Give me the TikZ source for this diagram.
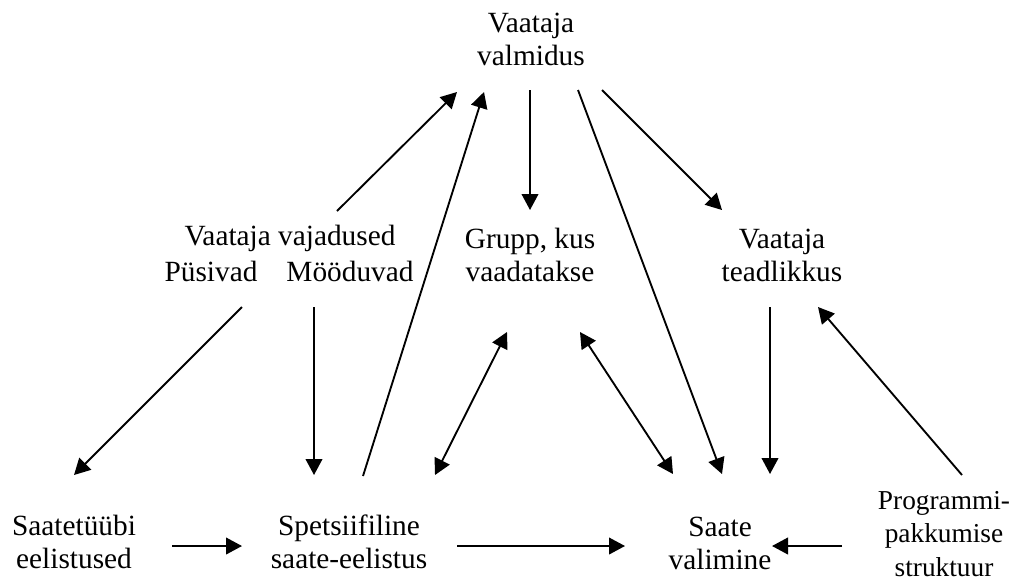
\documentclass[tikz,border=0pt]{standalone}
\usepackage{fontspec}
\setmainfont{Liberation Serif}
\usetikzlibrary{arrows.meta}
\begin{document}
\begin{tikzpicture}[x=0.75pt,y=-0.75pt,
  lbl/.style={align=center, anchor=base, inner sep=0pt,
    font=\fontsize{22}{24.75}\selectfont},
  small/.style={font=\fontsize{20.5}{25}\selectfont},
  tip/.tip={Triangle[length=12pt,width=12.5pt]},
  link/.style={line width=1.4pt, -tip},
  both/.style={line width=1.4pt, tip-tip}]
\useasboundingbox (0,0) rectangle (1023,583);

% text blocks (each placed at the baseline of its last line)
\node[lbl] (valm)  at (531,65)  {Vaataja\\valmidus};
\node[lbl] (vaj)   at (290,245) {Vaataja vajadused};
\node[lbl] (pus)   at (211,281) {Püsivad};
\node[lbl] (moo)   at (350,281) {Mööduvad};
\node[lbl] (grupp) at (530,281) {Grupp, kus\\vaadatakse};
\node[lbl] (tead)  at (782,281) {Vaataja\\teadlikkus};
\node[lbl] (tyyp)  at (74,568)  {Saatetüübi\\eelistused};
\node[lbl] (spets) at (349,568) {Spetsiifiline\\saate-eelistus};
\node[lbl] (val)   at (720,569) {Saate\\valimine};
\node[lbl,small] (prog) at (944,576) {Programmi-\\pakkumise\\struktuur};

% connector end points around the text blocks
\coordinate (valm-a) at (457,92);
\coordinate (valm-b) at (484,92);
\coordinate (valm-c) at (530,90);
\coordinate (valm-d) at (578,90);
\coordinate (valm-e) at (602,90);
\coordinate (pus-top) at (337,211);
\coordinate (pus-bot) at (242,307);
\coordinate (moo-bot) at (314,307);
\coordinate (grupp-top) at (530,210);
\coordinate (grupp-l) at (507,332);
\coordinate (grupp-r) at (580,332);
\coordinate (tead-top) at (722,210);
\coordinate (tead-bot) at (770,307);
\coordinate (tead-r) at (818,307);
\coordinate (tyyp-top) at (74,475);
\coordinate (tyyp-r) at (172,546);
\coordinate (spets-top) at (314,475);
\coordinate (spets-up) at (363,476);
\coordinate (spets-ne) at (435,475);
\coordinate (spets-l) at (242,546);
\coordinate (spets-r) at (457,546);
\coordinate (val-nw) at (673,474);
\coordinate (val-n) at (722,474);
\coordinate (val-ne) at (770,474);
\coordinate (val-l) at (625,546);
\coordinate (val-r) at (772,546);
\coordinate (prog-top) at (962,475);
\coordinate (prog-l) at (842,546);

% connectors
\draw[link] (pus-top) -- (valm-a);
\draw[link] (spets-up) -- (valm-b);
\draw[link] (valm-c) -- (grupp-top);
\draw[link] (valm-d) -- (val-n);
\draw[link] (valm-e) -- (tead-top);
\draw[link] (pus-bot) -- (tyyp-top);
\draw[link] (moo-bot) -- (spets-top);
\draw[both] (spets-ne) -- (grupp-l);
\draw[both] (grupp-r) -- (val-nw);
\draw[link] (tead-bot) -- (val-ne);
\draw[link] (prog-top) -- (tead-r);
\draw[link] (tyyp-r) -- (spets-l);
\draw[link] (spets-r) -- (val-l);
\draw[link] (prog-l) -- (val-r);
\end{tikzpicture}
\end{document}
